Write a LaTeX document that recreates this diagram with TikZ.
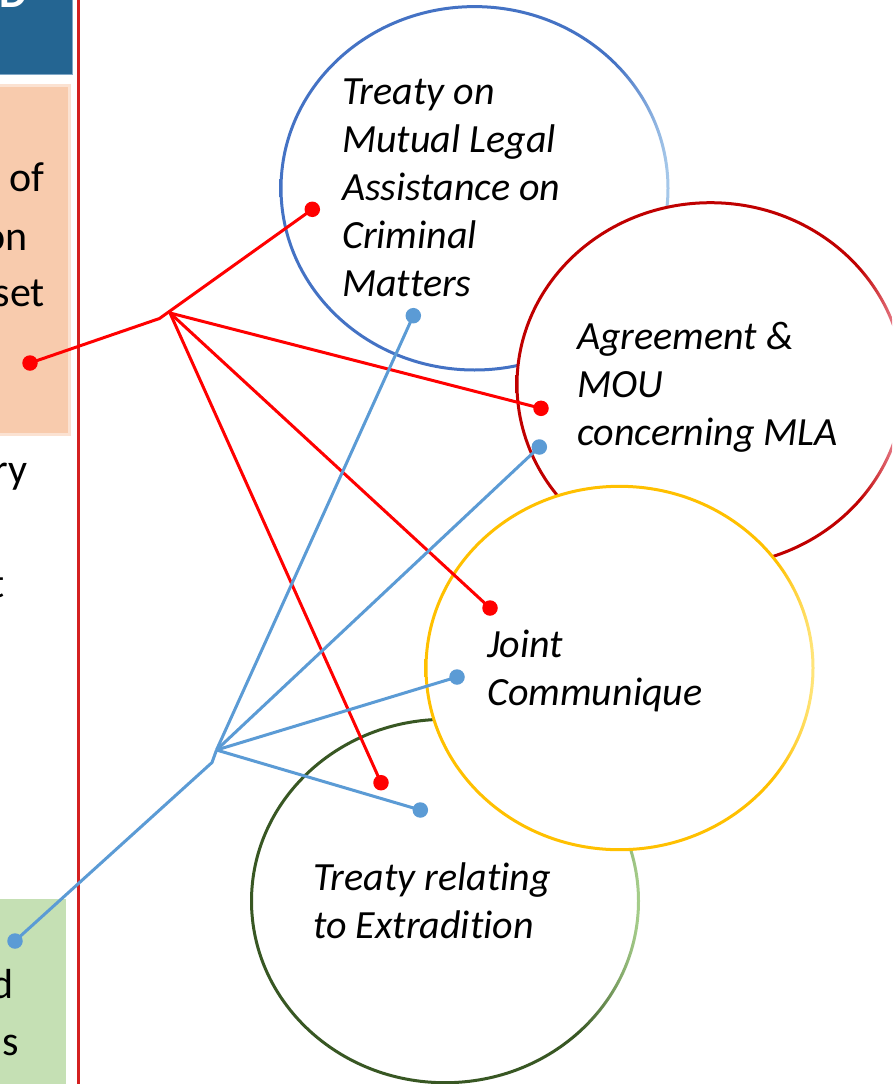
\documentclass[tikz,border=0pt]{standalone}
\usepackage{fontspec}
\setmainfont{Carlito}[Ligatures=NoCommon]
\definecolor{hdrblue}{HTML}{246592}
\definecolor{hdredge}{HTML}{7FA7C6}
\definecolor{peach}{HTML}{F8CBAD}
\definecolor{peachedge}{HTML}{FBE2D2}
\definecolor{lgreen}{HTML}{C5E0B4}
\definecolor{vred}{HTML}{D42020}
\definecolor{lred}{HTML}{FF0000}
\definecolor{lblue}{HTML}{5B9BD5}
\definecolor{bluedark}{HTML}{4472C4}
\definecolor{bluelight}{HTML}{A9CBEB}
\definecolor{reddark}{HTML}{C00000}
\definecolor{redlight}{HTML}{F2A3B3}
\definecolor{yeldark}{HTML}{FFC000}
\definecolor{yellight}{HTML}{FFE680}
\definecolor{grndark}{HTML}{385723}
\definecolor{grnlight}{HTML}{A9D18E}
\pgfdeclarehorizontalshading{blueshade}{100bp}{color(0bp)=(bluedark); color(25bp)=(bluedark); color(68bp)=(bluedark); color(75bp)=(bluelight); color(100bp)=(bluelight)}
\pgfdeclarehorizontalshading{redshade}{100bp}{color(0bp)=(reddark); color(25bp)=(reddark); color(69bp)=(reddark); color(75bp)=(redlight); color(100bp)=(redlight)}
\pgfdeclarehorizontalshading{yelshade}{100bp}{color(0bp)=(yeldark); color(25bp)=(yeldark); color(70bp)=(yeldark); color(75bp)=(yellight); color(100bp)=(yellight)}
\pgfdeclarehorizontalshading{grnshade}{100bp}{color(0bp)=(grndark); color(25bp)=(grndark); color(67bp)=(grndark); color(75bp)=(grnlight); color(100bp)=(grnlight)}
\newcommand{\ringellipse}[2]{%
  \fill[white] #1 ellipse (193.5pt and 181.7pt);
  \shade[shading=#2, even odd rule] #1 ellipse (195pt and 183.2pt) #1 ellipse (192pt and 180.2pt);
}
\begin{document}
\begin{tikzpicture}[x=1pt,y=-1pt,
  conR/.style={draw=lred, line width=3pt},
  conB/.style={draw=lblue, line width=3pt},
  dotR/.style={circle, fill=lred, inner sep=0pt, minimum size=15.5pt},
  dotB/.style={circle, fill=lblue, inner sep=0pt, minimum size=15.5pt},
  ctext/.style={font=\fontsize{40}{48}\selectfont\itshape, align=left, anchor=base west, inner sep=0pt},
  stext/.style={font=\fontsize{42}{57}\selectfont, anchor=base east, inner sep=0pt},
]
\useasboundingbox (0,0) rectangle (892,1084);
\clip (0,0) rectangle (892,1084);
\fill[white] (0,0) rectangle (892,1084);

% left panel
\filldraw[fill=hdrblue, draw=hdredge, line width=1pt] (-5,-5) rectangle (72.5,74);
\node[font=\fontsize{44}{44}\selectfont\bfseries, text=white, anchor=base east, inner sep=0pt] (hdr) at (27,7.5) {D};
\filldraw[fill=peach, draw=peachedge, line width=3pt] (-5,85.8) rectangle (69.5,434.7);
\node[stext] (p1) at (45,191.7) {of};
\node[stext] (p2) at (28,250) {on};
\node[stext] (p3) at (45,306.7) {set};
\node[stext] (m1) at (28,483) {ry};
\node[stext] (m2) at (5,597) {t};
\fill[lgreen] (-5,899.3) rectangle (66,1090);
\node[stext] (g1) at (14,998) {d};
\node[stext] (g2) at (19,1055) {s};
\draw[vred, line width=2.2pt] (78.5,-2) -- (78.5,1090);

% circles
\ringellipse{(474.5,188.3)}{blueshade}
\ringellipse{(710.5,384.4)}{redshade}
\ringellipse{(445,901)}{grnshade}
\ringellipse{(619.5,668)}{yelshade}

% texts (anchor = baseline of last line)
\node[ctext] (tBlue) at (342,296.7) {Treaty on\\Mutual Legal\\Assistance on\\Criminal\\Matters};
\node[ctext] (tRed) at (577,445.3) {Agreement \&\\MOU\\concerning MLA};
\node[ctext] (tYel) at (487,705) {Joint\\Communique};
\node[ctext] (tGrn) at (313,938.3) {Treaty relating\\to Extradition};

% red connectors
\node[dotR] (rA) at (30,363) {};
\node[dotR] (rB) at (312.3,209.3) {};
\node[dotR] (rC) at (541,408.3) {};
\node[dotR] (rD) at (490,608) {};
\node[dotR] (rE) at (381,782.7) {};
\coordinate (rh1) at (159.5,318.5);
\coordinate (rh2) at (170,313);
\draw[conR] (rA.center) -- (rh1) -- (rB.center);
\draw[conR] (rh2) -- (rC.center);
\draw[conR] (rh2) -- (rD.center);
\draw[conR] (rh2) -- (rE.center);

% blue connectors
\node[dotB] (bA) at (15,941) {};
\node[dotB] (bB) at (413.3,315.7) {};
\node[dotB] (bC) at (539.3,447) {};
\node[dotB] (bD) at (457,677) {};
\node[dotB] (bE) at (420.3,810) {};
\coordinate (bh1) at (212,762.5);
\coordinate (bh2) at (216.5,750);
\draw[conB] (bA.center) -- (bh1) -- (bh2);
\draw[conB] (bh2) -- (bB.center);
\draw[conB] (bh2) -- (bC.center);
\draw[conB] (bh2) -- (bD.center);
\draw[conB] (bh2) -- (bE.center);
\end{tikzpicture}
\end{document}
